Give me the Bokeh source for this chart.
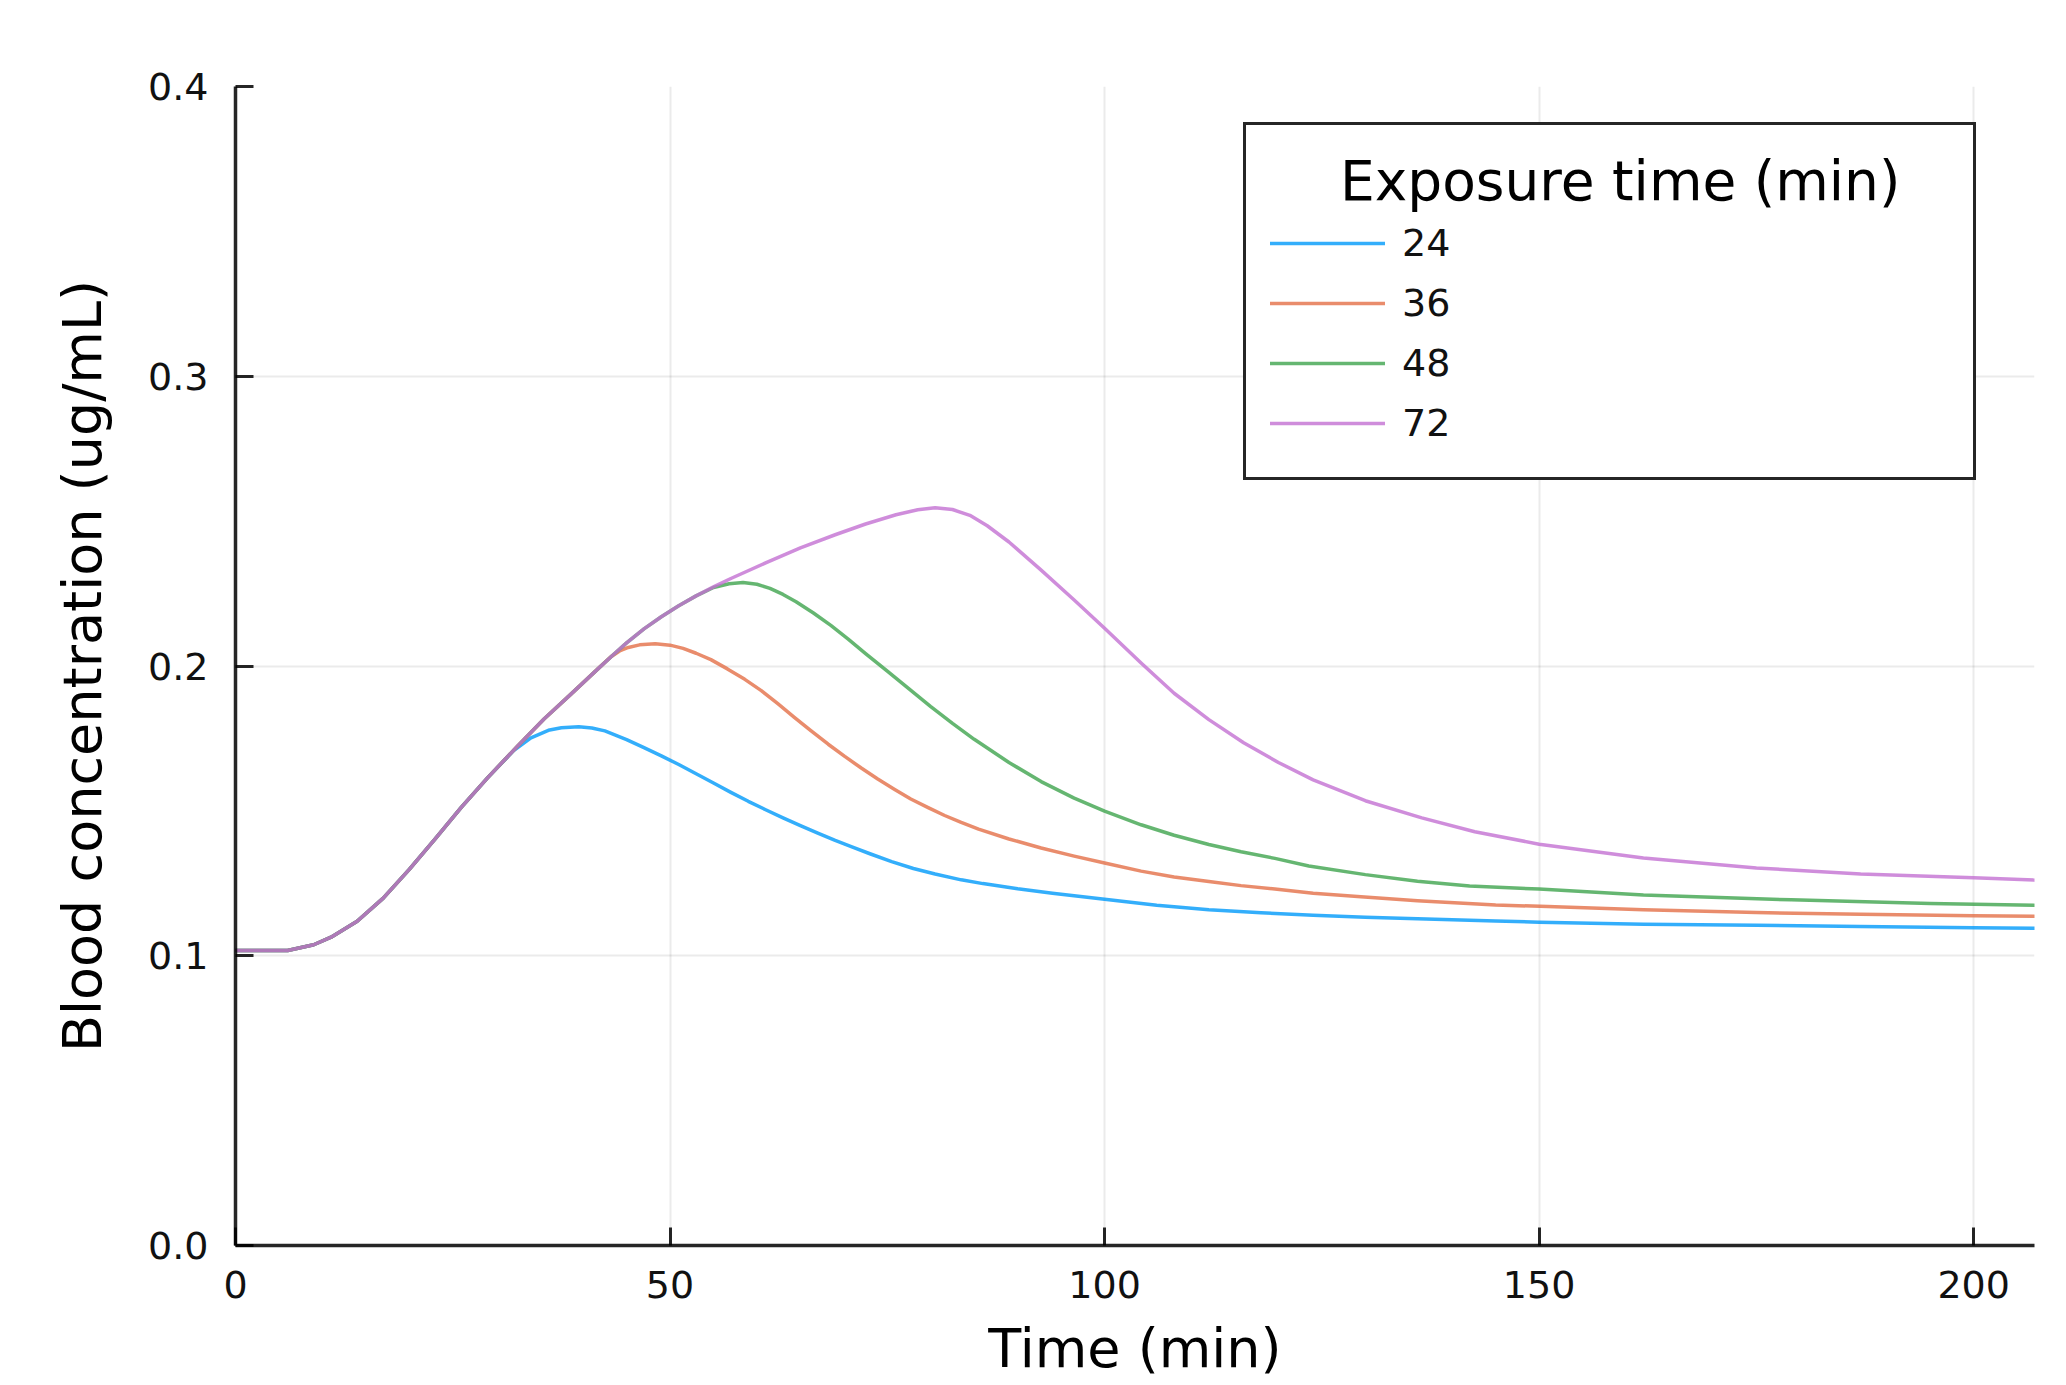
from bokeh.plotting import figure
from bokeh.models import Range1d, FixedTicker, Legend, LegendItem
from bokeh.embed import file_html
from bokeh.resources import INLINE

# ---------------- data ----------------
series_labels = ["24", "36", "48", "72"]
series_colors = ["#009AFA", "#E36F47", "#3EA44E", "#C371D2"]

t24 = [0, 6, 9, 11, 14, 17, 20, 23, 26, 29, 32, 34, 36, 37.5, 39.5, 41, 42.5, 45, 47, 49,
       51, 53, 55, 57, 59, 61, 63, 65, 67, 69, 71, 73, 75.5, 78, 80.5, 83.5, 86, 90, 94, 100,
       106, 112, 118, 124, 130, 137, 145, 150, 162, 175, 187, 200, 207]
c24 = [0.1018, 0.1018, 0.1038, 0.1064, 0.1119, 0.1199, 0.1298, 0.1404, 0.1513, 0.1614,
       0.1708, 0.1752, 0.1778, 0.1787, 0.1790, 0.1786, 0.1776, 0.1746, 0.1718, 0.1690,
       0.1660, 0.1628, 0.1596, 0.1564, 0.1533, 0.1504, 0.1476, 0.1449, 0.1423, 0.1398,
       0.1375, 0.1352, 0.1325, 0.1301, 0.1282, 0.1262, 0.1249, 0.1231, 0.1216, 0.1195,
       0.1174, 0.1159, 0.1148, 0.1140, 0.1133, 0.1127, 0.1120, 0.1116, 0.1109, 0.1105,
       0.1101, 0.1097, 0.1095]

t36 = [0, 6, 9, 11, 14, 17, 20, 23, 26, 29, 32.5, 35.5, 38.6, 41.7, 43.2, 44.2, 45.2, 46.5, 48.3, 50,
       51.5, 53, 54.7, 56.6, 58.6, 60.5, 62.4, 64.3, 66.2, 68.2, 70.1, 72, 73.9, 75.8, 77.7, 79.7,
       81.6, 83.5, 85.5, 89, 92.7, 96.5, 100, 104.2, 108, 112, 115.7, 119.6, 124, 129.5, 136, 145,
       151, 162, 175, 187, 200, 207]
c36 = [0.1018, 0.1018, 0.1038, 0.1064, 0.1119, 0.1199, 0.1298, 0.1404, 0.1513, 0.1614,
       0.1725, 0.1817, 0.1903, 0.1990, 0.2032, 0.2052, 0.2064, 0.2073, 0.2077, 0.2072,
       0.2061, 0.2044, 0.2022, 0.1990, 0.1954, 0.1915, 0.1870, 0.1823, 0.1777, 0.1730,
       0.1688, 0.1648, 0.1610, 0.1575, 0.1541, 0.1511, 0.1484, 0.1460, 0.1437, 0.1403,
       0.1372, 0.1344, 0.1320, 0.1292, 0.1272, 0.1256, 0.1242, 0.1230, 0.1216, 0.1204,
       0.1190, 0.1175, 0.1170, 0.1159, 0.1149, 0.1143, 0.1138, 0.1136]

t48 = [0, 6, 9, 11, 14, 17, 20, 23, 26, 29, 32.5, 35.5, 38.6, 41.7, 43.5, 45, 47, 49, 51, 53,
       55, 56.8, 58.4, 60, 61.5, 63, 64.5, 66.5, 68.5, 70.5, 72.5, 75, 77.5, 80, 82.5, 85, 89,
       92.7, 96.5, 100, 104.2, 108, 112, 115.7, 119.6, 123.5, 130, 136, 142, 150, 162, 179, 195,
       207]
c48 = [0.1018, 0.1018, 0.1038, 0.1064, 0.1119, 0.1199, 0.1298, 0.1404, 0.1513, 0.1614,
       0.1725, 0.1817, 0.1903, 0.1990, 0.2040, 0.2080, 0.2128, 0.2170, 0.2208, 0.2242,
       0.2271, 0.2284, 0.2288, 0.2282, 0.2268, 0.2247, 0.2222, 0.2183, 0.2140, 0.2093,
       0.2043, 0.1982, 0.1921, 0.1860, 0.1802, 0.1747, 0.1667, 0.1601, 0.1544, 0.1499,
       0.1452, 0.1416, 0.1384, 0.1359, 0.1336, 0.1310, 0.1280, 0.1257, 0.1241, 0.1230,
       0.1210, 0.1193, 0.1180, 0.1174]

t72 = [0, 6, 9, 11, 14, 17, 20, 23, 26, 29, 32.5, 35.5, 38.6, 41.7, 43.5, 45, 47, 49, 51, 53,
       55, 57, 61, 65, 69, 72.5, 76, 78.5, 80.5, 82.5, 84.5, 86.5, 89, 92.7, 96.5, 100, 104.2,
       108, 112, 116, 120, 124, 130, 136.5, 142.6, 150, 162, 175, 187, 200, 207]
c72 = [0.1018, 0.1018, 0.1038, 0.1064, 0.1119, 0.1199, 0.1298, 0.1404, 0.1513, 0.1614,
       0.1725, 0.1817, 0.1903, 0.1990, 0.2040, 0.2080, 0.2128, 0.2170, 0.2208, 0.2242,
       0.2273, 0.2302, 0.2356, 0.2408, 0.2453, 0.2490, 0.2522, 0.2539, 0.2546, 0.2540,
       0.2520, 0.2484, 0.2428, 0.2331, 0.2228, 0.2130, 0.2010, 0.1906, 0.1815, 0.1735,
       0.1667, 0.1607, 0.1535, 0.1476, 0.1428, 0.1385, 0.1337, 0.1303, 0.1282, 0.1269,
       0.1261]

x_ticks = [0, 50, 100, 150, 200]
x_tick_labels = ["0", "50", "100", "150", "200"]
y_ticks = [0.0, 0.1, 0.2, 0.3, 0.4]
y_tick_labels = ["0.0", "0.1", "0.2", "0.3", "0.4"]

x_title = "Time (min)"
y_title = "Blood concentration (ug/mL)"
legend_title = "Exposure time (min)"

# ---------------- figure ----------------
FONT = "DejaVu Sans"

p = figure(
    frame_width=1799, frame_height=1159,
    min_border_left=235, min_border_right=20, min_border_top=86, min_border_bottom=136,
    x_range=Range1d(0, 207), y_range=Range1d(0, 0.4),
    output_backend="svg", toolbar_location=None, title=None,
)
p.outline_line_color = None
p.background_fill_color = "white"
p.border_fill_color = "white"

renderers = []
for t, c, col in zip([t24, t36, t48, t72], [c24, c36, c48, c72], series_colors):
    r = p.line(t, c, line_color=col, line_width=3.5, line_alpha=0.8,
               line_join="round", line_cap="round")
    renderers.append(r)

# axes
for ax in (p.xaxis[0], p.yaxis[0]):
    ax.axis_line_color = "black"
    ax.axis_line_width = 3.5
    ax.axis_line_alpha = 0.85
    ax.major_tick_line_color = "black"
    ax.major_tick_line_width = 3
    ax.major_tick_line_alpha = 0.85
    ax.major_tick_in = 18
    ax.major_tick_out = 0
    ax.minor_tick_line_color = None
    ax.major_label_text_font = FONT
    ax.major_label_text_font_size = "38px"
    ax.major_label_text_color = "#111111"
    ax.axis_label_text_font = FONT
    ax.axis_label_text_font_size = "54px"
    ax.axis_label_text_font_style = "normal"
    ax.axis_label_text_color = "black"

p.xaxis.ticker = FixedTicker(ticks=x_ticks)
p.xaxis.major_label_overrides = dict(zip(x_ticks, x_tick_labels))
p.xaxis.axis_label = x_title
p.xaxis.major_label_standoff = 25
p.xaxis.axis_label_standoff = 16

p.yaxis.ticker = FixedTicker(ticks=y_ticks)
p.yaxis.major_label_overrides = dict(zip(y_ticks, y_tick_labels))
p.yaxis.axis_label = y_title
p.yaxis.major_label_standoff = 27
p.yaxis.axis_label_standoff = 31

p.grid.grid_line_color = "black"
p.grid.grid_line_alpha = 0.08
p.grid.grid_line_width = 2
p.xgrid.ticker = FixedTicker(ticks=x_ticks)
p.ygrid.ticker = FixedTicker(ticks=y_ticks)

# the legend title is centred in the reference: indent it with non-breaking spaces
legend = Legend(
    items=[LegendItem(label=lab, renderers=[r]) for lab, r in zip(series_labels, renderers)],
    title="\u00a0" * 4 + legend_title,
    location=(1008, 765),
    padding=24, spacing=0, margin=0,
    glyph_width=115, glyph_height=60, label_height=60, label_width=547, label_standoff=17,
    label_text_font=FONT, label_text_font_size="38px", label_text_color="#111111",
    title_text_font=FONT, title_text_font_size="55px", title_text_font_style="normal",
    title_text_color="black", title_standoff=0,
    border_line_color="black", border_line_width=3, border_line_alpha=0.85,
    background_fill_color="white", background_fill_alpha=1.0,
)
p.add_layout(legend)

open("out.html", "w").write(file_html(p, INLINE))
